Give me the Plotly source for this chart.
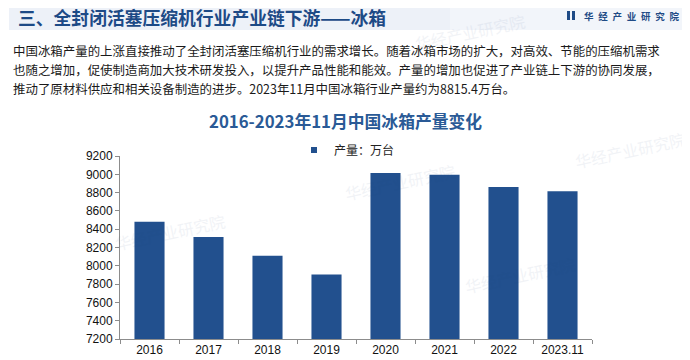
import plotly.graph_objects as go

categories = ["2016", "2017", "2018", "2019", "2020", "2021", "2022", "2023.11"]
production = [8481.5, 8316, 8110, 7904, 9014, 8994, 8862, 8815.4]
y_ticks = [7200, 7400, 7600, 7800, 8000, 8200, 8400, 8600, 8800, 9000, 9200]

header_title = "三、全封闭活塞压缩机行业产业链下游——冰箱"
brand_chars = ["华", "经", "产", "业", "研", "究", "院"]
paragraph_lines = [
    "中国冰箱产量的上涨直接推动了全封闭活塞压缩机行业的需求增长。随着冰箱市场的扩大，对高效、节能的压缩机需求",
    "也随之增加，促使制造商加大技术研发投入，以提升产品性能和能效。产量的增加也促进了产业链上下游的协同发展，",
    "推动了原材料供应和相关设备制造的进步。2023年11月中国冰箱行业产量约为8815.4万台。",
]
chart_title = "2016-2023年11月中国冰箱产量变化"
series_name = "产量：万台"

BLUE = "#22508e"
CJK = "Noto Sans CJK SC"

# page body has an 8px margin: the figure starts at (8, 8) of the window
OFF = 8
W, H = 690 - OFF, 360 - OFF
ML, MR, MT, MB = 120 - OFF, 98, 156 - OFF, 21

fig = go.Figure()
fig.add_trace(go.Bar(
    x=categories, y=production, name=series_name,
    marker=dict(color=BLUE, line=dict(width=0)), width=0.51,
    showlegend=False,
))
# legend entry with a small square symbol
fig.add_trace(go.Scatter(
    x=[None], y=[None], mode="markers", name=series_name,
    marker=dict(symbol="square", size=6, color=BLUE), showlegend=True,
))

fig.update_layout(
    width=W, height=H,
    margin=dict(l=ML, r=MR, t=MT, b=MB, autoexpand=False),
    paper_bgcolor="white", plot_bgcolor="rgba(0,0,0,0)",
    showlegend=True,
    legend=dict(orientation="h", x=(294 - OFF) / W, xanchor="left", xref="container",
                y=(H - (150 - OFF)) / H, yanchor="middle", yref="container",
                font=dict(family=CJK, size=12, color="#222"),
                itemwidth=30, itemsizing="trace", bgcolor="rgba(0,0,0,0)"),
    font=dict(family="Liberation Sans, Arial, " + CJK, size=12, color="#111"),
)
fig.update_xaxes(
    type="category", showline=True, linecolor="#8c8c8c", linewidth=1,
    ticks="outside", ticklen=4, tickcolor="#8c8c8c", tickson="boundaries",
    tickfont=dict(family="Liberation Sans, Arial", size=12, color="#111"),
    showgrid=False, range=[-0.5, 7.5],
)
fig.update_yaxes(
    range=[7200, 9200], tickvals=y_ticks, showline=True, linecolor="#8c8c8c", linewidth=1,
    ticks="outside", ticklen=4, tickcolor="#8c8c8c",
    tickfont=dict(family="Liberation Sans, Arial", size=12, color="#111"),
    showgrid=False, zeroline=False,
)


def px_x(x):
    # reference-window pixel x -> paper coordinate
    return (x - OFF - ML) / (W - ML - MR)


def px_y(y):
    return (H - MB - (y - OFF)) / (H - MT - MB)


# Header band
fig.add_shape(type="rect", xref="paper", yref="paper",
              x0=px_x(9), x1=px_x(690), y0=px_y(30), y1=px_y(3),
              fillcolor="#edf1f8", line=dict(width=0), layer="below")
fig.add_shape(type="rect", xref="paper", yref="paper",
              x0=px_x(450), x1=px_x(690), y0=px_y(30), y1=px_y(3),
              fillcolor="#f2f5fa", line=dict(width=0), layer="below")
# brand icon
fig.add_shape(type="rect", xref="paper", yref="paper",
              x0=px_x(567), x1=px_x(570), y0=px_y(20), y1=px_y(11),
              fillcolor="#1f4b86", line=dict(width=0))
fig.add_shape(type="rect", xref="paper", yref="paper",
              x0=px_x(572), x1=px_x(575), y0=px_y(20), y1=px_y(11),
              fillcolor="#1f4b86", line=dict(width=0))

ann = []
ann.append(dict(text="<b>" + header_title + "</b>", xref="paper", yref="paper",
                x=px_x(16), y=px_y(17), xanchor="left", yanchor="middle", showarrow=False,
                font=dict(family=CJK, size=17.8, color="#1d4a86")))
ann.append(dict(text="<b>" + "\u2002".join(brand_chars) + "</b>", xref="paper", yref="paper",
                x=px_x(582), y=px_y(16), xanchor="left", yanchor="middle", showarrow=False,
                font=dict(family=CJK, size=9.5, color="#1f4b86")))
for i, line in enumerate(paragraph_lines):
    ann.append(dict(text=line, xref="paper", yref="paper",
                    x=px_x(11), y=px_y(51 + i * 19), xanchor="left", yanchor="middle",
                    showarrow=False, font=dict(family=CJK, size=12.45, color="#1a1a1a")))
ann.append(dict(text="<b>" + chart_title + "</b>", xref="paper", yref="paper",
                x=px_x(345), y=px_y(121), xanchor="center", yanchor="middle", showarrow=False,
                font=dict(family=CJK, size=16.8, color="#2a5a96")))

# faint watermarks
watermarks = [(470, 32), (170, 232), (400, 182), (520, 275), (630, 150)]
for (wx, wy) in watermarks:
    ann.append(dict(text="华经产业研究院", xref="paper", yref="paper",
                    x=px_x(wx), y=px_y(wy), xanchor="center", yanchor="middle", showarrow=False,
                    textangle=-12, opacity=0.06,
                    font=dict(family=CJK, size=16, color="#20407a")))
fig.update_layout(annotations=ann)

fig.write_html("out.html")
